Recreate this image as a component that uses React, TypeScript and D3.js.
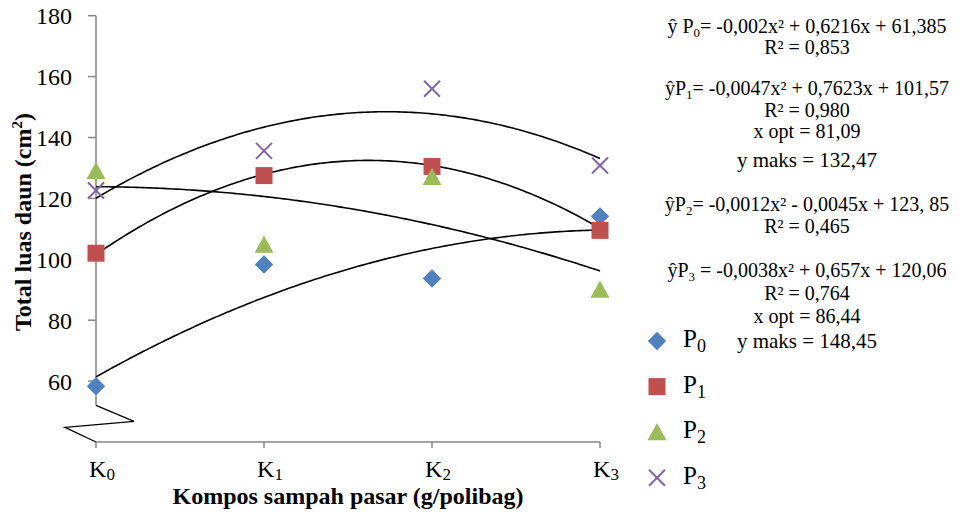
import React from 'react';
import * as d3 from 'd3';

// compost dose per category (g/polibag), used as x for the trend equations
const categories = ['K0', 'K1', 'K2', 'K3'];
const doses = [0, 50, 100, 150];

const seriesNames = ['P0', 'P1', 'P2', 'P3'];
const p0 = [58.3, 98.3, 93.7, 114.1];
const p1 = [102.0, 127.5, 130.5, 109.5];
const p2 = [129.0, 104.8, 127.0, 90.0];
const p3 = [122.6, 135.6, 156.0, 130.8];

// quadratic trend coefficients [c, b, a] : y = a x^2 + b x + c
const coefP0 = [61.385, 0.6216, -0.002];
const coefP1 = [101.57, 0.7623, -0.0047];
const coefP2 = [123.85, -0.0045, -0.0012];
const coefP3 = [120.06, 0.657, -0.0038];

const yTicks = [60, 80, 100, 120, 140, 160, 180];

const eqBlocks = [
  ['ŷ P_0= -0,002x² + 0,6216x + 61,385', 'R² = 0,853'],
  ['ŷP_1= -0,0047x² + 0,7623x + 101,57', 'R² = 0,980', 'x opt = 81,09', 'y maks = 132,47'],
  ['ŷP_2= -0,0012x² - 0,0045x + 123, 85', 'R² = 0,465'],
  ['ŷP_3 = -0,0038x² + 0,657x + 120,06', 'R² = 0,764', 'x opt = 86,44', 'y maks = 148,45'],
];
const eqBaselines = [[33, 54], [95, 117, 138, 167], [211, 233], [277, 300, 323, 348]];

const W = 959;
const H = 513;
const FONT = "'Liberation Serif', 'Times New Roman', serif";
const AXIS = '#868686';
const colors = ['#4F81BD', '#C0504D', '#9BBB59', '#8064A2'];

// text with "_d" marking a subscript digit
function RichText({ text, x, y, size, subSize }: any) {
  const parts = text.split(/_(\d)/);
  const shift = size * 0.22;
  const out: any[] = [];
  let lowered = false;
  parts.forEach((p: string, i: number) => {
    if (!p) return;
    if (i % 2 === 0) {
      out.push(<tspan key={i} fontSize={size} dy={lowered ? -shift : undefined}>{p}</tspan>);
      lowered = false;
    } else {
      out.push(<tspan key={i} fontSize={subSize} dy={shift}>{p}</tspan>);
      lowered = true;
    }
  });
  return (
    <text x={x} y={y} textAnchor="middle" fontFamily={FONT} fontSize={size} fill="#000">
      {out}
    </text>
  );
}

function Marker({ kind, x, y }: any) {
  if (kind === 0) {
    return <rect x={x - 6.5} y={y - 6.5} width={13} height={13} fill={colors[0]}
      transform={`rotate(45 ${x} ${y})`} />;
  }
  if (kind === 1) {
    return <rect x={x - 8.5} y={y - 8.5} width={17} height={17} fill={colors[1]} />;
  }
  if (kind === 2) {
    return <path d={`M${x},${y - 9}L${x + 9.5},${y + 8}L${x - 9.5},${y + 8}Z`} fill={colors[2]} />;
  }
  return (
    <g stroke={colors[3]} strokeWidth={2}>
      <line x1={x - 8} y1={y - 8} x2={x + 8} y2={y + 8} />
      <line x1={x - 8} y1={y + 8} x2={x + 8} y2={y - 8} />
    </g>
  );
}

export default function App() {
  const x = d3.scaleLinear().domain([0, 150]).range([96, 600]);
  const y = d3.scaleLinear().domain([40, 180]).range([442, 15.7]);
  const breakTop = 52;

  const series = [p0, p1, p2, p3];
  const coefs = [coefP0, coefP1, coefP2, coefP3];
  const xs = d3.range(0, 150.5, 1);
  const line = d3.line<number[]>().x(d => x(d[0])).y(d => y(d[1]));

  const x0 = x(0);
  const yb = y(breakTop);

  return (
    <svg width={W} height={H} style={{ position: 'absolute', left: 0, top: 0, background: '#fff' }}>
      {/* y axis */}
      <line x1={x0} x2={x0} y1={y(180)} y2={yb} stroke={AXIS} strokeWidth={1.5} />
      {yTicks.map(t => (
        <g key={t}>
          <line x1={x0 - 8} x2={x0} y1={y(t)} y2={y(t)} stroke={AXIS} strokeWidth={1.5} />
          <text x={72} y={y(t)} dy="0.35em" textAnchor="end" fontFamily={FONT} fontSize={24}>{t}</text>
        </g>
      ))}
      {/* axis break */}
      <polyline
        points={`${x0},${yb} ${x0 + 38},${yb + 16} ${x0 - 31},${yb + 22} ${x0},${y(40)}`}
        fill="none" stroke="#000" strokeWidth={1.3} />
      {/* x axis */}
      <line x1={x0} x2={x(150)} y1={y(40)} y2={y(40)} stroke={AXIS} strokeWidth={1.5} />
      {doses.map((d, i) => (
        <g key={i}>
          <line x1={x(d)} x2={x(d)} y1={y(40)} y2={y(40) + 6} stroke={AXIS} strokeWidth={1.5} />
          <text x={x(d) + 6} y={477} textAnchor="middle" fontFamily={FONT} fontSize={24}>
            <tspan fontSize={24}>{categories[i][0]}</tspan>
            <tspan fontSize={17} dy={3}>{categories[i].slice(1)}</tspan>
          </text>
        </g>
      ))}

      {/* trend lines */}
      {coefs.map((c, i) => (
        <path key={i} d={line(xs.map(v => [v, c[0] + c[1] * v + c[2] * v * v])) || ''}
          fill="none" stroke="#000" strokeWidth={1.6} />
      ))}

      {/* points */}
      {series.map((s, si) => (
        <g key={si}>
          {s.map((v, i) => <Marker key={i} kind={si} x={x(doses[i])} y={y(v)} />)}
        </g>
      ))}

      {/* axis titles */}
      <text x={348} y={504} textAnchor="middle" fontFamily={FONT} fontWeight="bold" fontSize={24}>
        Kompos sampah pasar (g/polibag)
      </text>
      <text transform="translate(31,222) rotate(-90)" textAnchor="middle" fontFamily={FONT}
        fontWeight="bold" fontSize={24}>
        <tspan fontSize={24}>Total luas daun (cm</tspan>
        <tspan fontSize={15} dy={-9}>2</tspan>
        <tspan fontSize={24} dy={9}>)</tspan>
      </text>

      {/* equations */}
      {eqBlocks.map((b, bi) => b.map((t, li) => (
        <RichText key={bi + '-' + li} text={t} x={807} y={eqBaselines[bi][li]}
          size={t.startsWith('y maks') ? 21 : 20} subSize={13} />
      )))}

      {/* legend */}
      {seriesNames.map((n, i) => {
        const ly = 341 + i * 45.6;
        return (
          <g key={n}>
            <Marker kind={i} x={657} y={ly} />
            <text x={683} y={ly + 6} fontFamily={FONT} fontSize={25}>
              <tspan fontSize={25}>{n[0]}</tspan>
              <tspan fontSize={18} dy={5}>{n.slice(1)}</tspan>
            </text>
          </g>
        );
      })}
    </svg>
  );
}
